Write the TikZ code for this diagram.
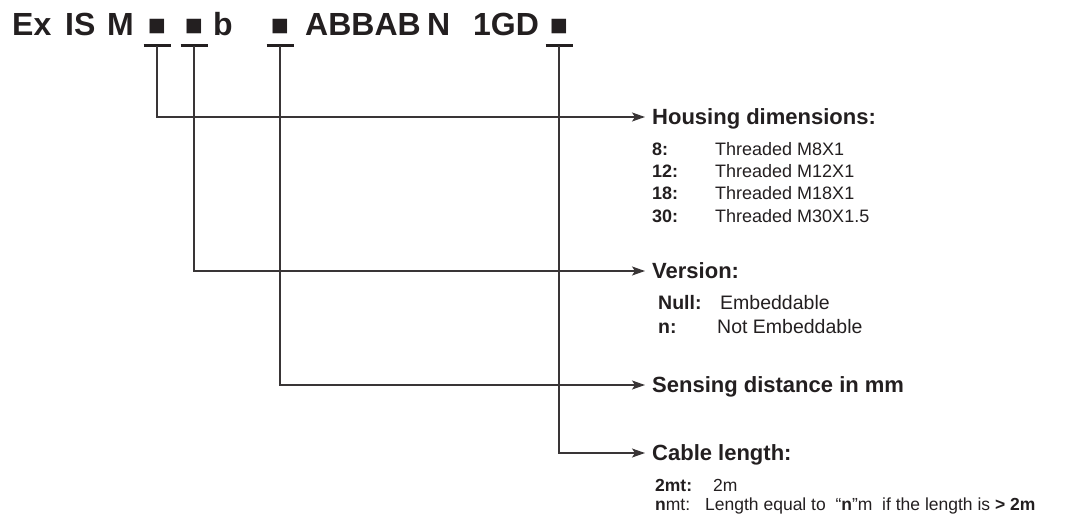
\documentclass[tikz,border=0pt]{standalone}
\usepackage{fontspec}
\setmainfont{Liberation Sans}
\usetikzlibrary{arrows.meta}
\definecolor{ink}{HTML}{231F20}

\tikzset{
  code/.style={anchor=base west, inner sep=0pt, text=ink, font=\fontsize{32}{32}\selectfont\bfseries},
  codesq/.style={anchor=base, inner sep=0pt, text=ink, font=\fontsize{30}{30}\selectfont},
  head/.style={anchor=west, inner xsep=7pt, inner ysep=0pt, text height=15pt, text depth=0pt, text=ink, font=\fontsize{22}{22}\selectfont\bfseries},
  item/.style={anchor=base west, inner sep=0pt, text=ink, font=\fontsize{18}{18}\selectfont},
  tbar/.style={line width=3pt, ink},
  conn/.style={line width=1.6pt, ink!90, -{Stealth[length=13pt,width=9pt,inset=3pt]}},
}

\begin{document}
\begin{tikzpicture}[x=1pt,y=-1pt]
\useasboundingbox (0,0) rectangle (1065,519);

% order code
\foreach \x/\w [count=\i] in {12/Ex, 65/IS, 107/M, 213/b, 305/ABBAB, 427/N, 473/1GD}
  \node[code] (word\i) at (\x,36) {\w};
\foreach \x [count=\i] in {157,194,280,559} {
  \node[codesq] (sq\i) at (\x,36) {■};
  \coordinate (t\i) at (\x,46);
  \draw[tbar] ([xshift=-13.5pt]t\i) -- ([xshift=13.5pt]t\i);
}

% headings
\node[head] (hd1) at (645,117) {Housing dimensions:};
\node[head] (hd2) at (645,271) {Version:};
\node[head] (hd3) at (645,385) {Sensing distance in mm};
\node[head] (hd4) at (645,453) {Cable length:};

\draw[conn] (t1) |- (hd1.west);
\draw[conn] (t2) |- (hd2.west);
\draw[conn] (t3) |- (hd3.west);
\draw[conn] (t4) |- (hd4.west);

% housing dimensions
\foreach \y/\k/\v [count=\i] in {155/8:/M8X1, 177/12:/M12X1, 199/18:/M18X1, 222/30:/M30X1.5} {
  \node[item] (hk\i) at (652,\y) {\textbf{\k}};
  \node[item] (hv\i) at (715,\y) {Threaded \v};
}

% version
\node[item, font=\fontsize{19.5}{19.5}\selectfont] (vk1) at (658,309) {\textbf{Null:}};
\node[item, font=\fontsize{19.5}{19.5}\selectfont] (vv1) at (720,309) {Embeddable};
\node[item, font=\fontsize{19.5}{19.5}\selectfont] (vk2) at (658,333) {\textbf{n:}};
\node[item, font=\fontsize{19.5}{19.5}\selectfont] (vv2) at (717,333) {Not Embeddable};

% cable length
\node[item, font=\fontsize{17.5}{17.5}\selectfont] (ck1) at (655,491) {\textbf{2mt:}};
\node[item, font=\fontsize{17.5}{17.5}\selectfont] (cv1) at (713,491) {2m};
\node[item, font=\fontsize{17.5}{17.5}\selectfont] (ck2) at (655,510) {\textbf{n}mt:};
\node[item, font=\fontsize{17.5}{17.5}\selectfont] (cv2) at (705,510) {Length equal to \ “\textbf{n}”m \ if the length is \textbf{> 2m}};
\end{tikzpicture}
\end{document}
